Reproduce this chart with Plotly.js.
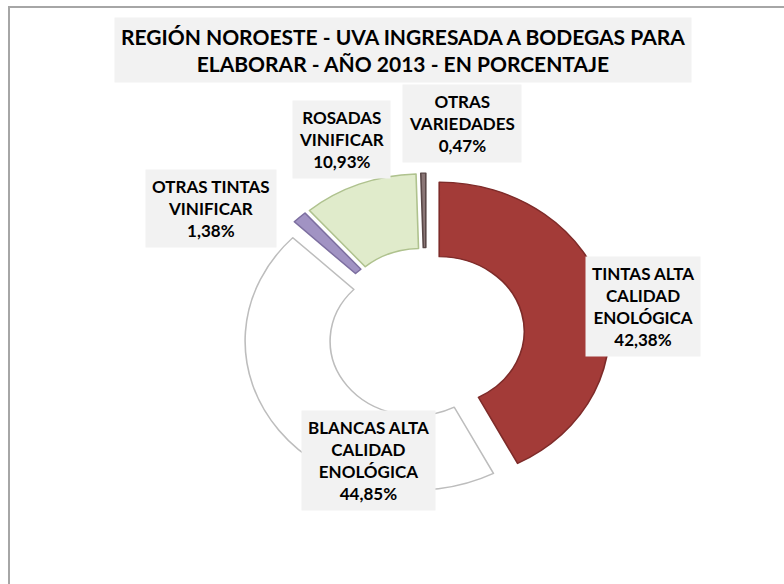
<!DOCTYPE html>
<html>
<head>
<meta charset="utf-8">
<script src="https://cdn.plot.ly/plotly-3.0.1.min.js"></script>
<style>
html,body{margin:0;padding:0;background:#fff;}
#chart{width:784px;height:584px;}
</style>
</head>
<body>
<div id="chart"></div>
<script>
// ---- data ----
const categories = [
  "TINTAS ALTA CALIDAD ENOLÓGICA",
  "BLANCAS ALTA CALIDAD ENOLÓGICA",
  "OTRAS TINTAS VINIFICAR",
  "ROSADAS VINIFICAR",
  "OTRAS VARIEDADES"
];
const labelLines = [
  ["TINTAS ALTA", "CALIDAD", "ENOLÓGICA"],
  ["BLANCAS ALTA", "CALIDAD", "ENOLÓGICA"],
  ["OTRAS TINTAS", "VINIFICAR"],
  ["ROSADAS", "VINIFICAR"],
  ["OTRAS", "VARIEDADES"]
];
const percentages = [42.38, 44.85, 1.38, 10.93, 0.47];
const titleText = "REGIÓN NOROESTE - UVA INGRESADA A BODEGAS PARA<br>ELABORAR - AÑO 2013 - EN PORCENTAJE";

// ---- styling ----
const W = 784, H = 584;
const sliceColors = ['#A33B38', '#FFFFFF', '#A193C3', '#E0EBCB', '#8A7676'];
const lineColors  = ['#7E2B29', '#BDBDBD', '#7D6FA0', '#AFC28E', '#5A4848'];
const labelPos = [ [643, 306], [368, 460], [211, 208], [341, 139], [462, 124] ];
const FONT = "Lato, 'Open Sans', sans-serif";

const px = x => x / W;
const py = y => 1 - y / H;

function fmt(v) { return v.toFixed(2).replace('.', ',') + '%'; }

const R = 160, pull = 0.08;
const cx = 426, cy = 334;
const RX = 170, RY = 149;   // reference donut is slightly elliptical
const half = R * (1 + pull);

const trace = {
  type: 'pie',
  values: percentages,
  labels: categories,
  sort: false,
  direction: 'clockwise',
  rotation: 0,
  hole: 0.5,
  pull: percentages.map(() => pull),
  textinfo: 'none',
  hoverinfo: 'skip',
  showlegend: false,
  marker: { colors: sliceColors, line: { color: lineColors, width: 1.5 } },
  domain: { x: [px(cx - half), px(cx + half)], y: [py(cy + half), py(cy - half)] }
};

const annotations = [{
  xref: 'paper', yref: 'paper', x: px(403), y: py(50),
  xanchor: 'center', yanchor: 'middle', showarrow: false,
  text: '<b>' + titleText + '</b>',
  font: { family: FONT, size: 21, color: '#000' },
  bgcolor: '#F2F2F2', borderpad: 6, align: 'center'
}];
labelLines.forEach((lines, i) => {
  annotations.push({
    xref: 'paper', yref: 'paper', x: px(labelPos[i][0]), y: py(labelPos[i][1]),
    xanchor: 'center', yanchor: 'middle', showarrow: false,
    text: '<b>' + lines.concat([fmt(percentages[i])]).join('<br>') + '</b>',
    font: { family: FONT, size: 17, color: '#000' },
    bgcolor: '#F2F2F2', borderpad: 6, align: 'center'
  });
});

const layout = {
  width: W, height: H,
  margin: { l: 0, r: 0, t: 0, b: 0 },
  paper_bgcolor: '#FFFFFF',
  showlegend: false,
  annotations: annotations,
  shapes: [
    { type: 'line', xref: 'paper', yref: 'paper', x0: px(8), x1: 1, y0: py(7), y1: py(7), line: { color: '#A6A6A6', width: 2 } },
    { type: 'line', xref: 'paper', yref: 'paper', x0: px(9), x1: px(9), y0: py(7), y1: 0, line: { color: '#A6A6A6', width: 2 } }
  ]
};

Plotly.newPlot('chart', [trace], layout, { staticPlot: true, displayModeBar: false }).then(gd => {
  const g = gd.querySelector('g.pielayer');
  if (g) {
    const sx = RX / R, sy = RY / R;
    g.setAttribute('transform',
      'translate(' + cx + ',' + cy + ') scale(' + sx + ',' + sy + ') translate(' + (-cx) + ',' + (-cy) + ')');
  }
});
</script>
</body>
</html>
